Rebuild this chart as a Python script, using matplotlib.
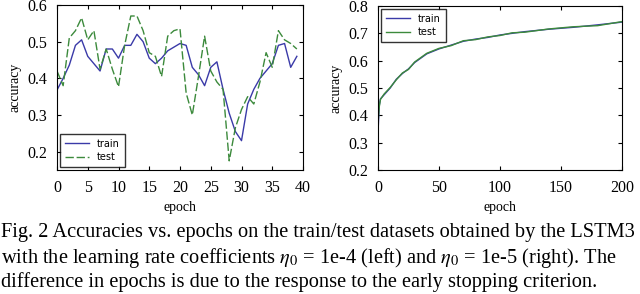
import matplotlib.pyplot as plt
import numpy as np

# left panel: eta0 = 1e-4, 40 epochs
epochs_l = np.arange(40)
train_l = [0.368, 0.40, 0.436, 0.49, 0.505, 0.46, 0.44, 0.42, 0.48, 0.48,
           0.455, 0.49, 0.49, 0.52, 0.50, 0.455, 0.44, 0.455, 0.475, 0.485,
           0.495, 0.49, 0.43, 0.41, 0.38, 0.43, 0.445, 0.37, 0.305, 0.255,
           0.23, 0.33, 0.37, 0.40, 0.42, 0.44, 0.49, 0.495, 0.43, 0.46]
test_l = [0.42, 0.38, 0.51, 0.53, 0.565, 0.505, 0.53, 0.425, 0.48, 0.425,
          0.377, 0.49, 0.57, 0.57, 0.53, 0.47, 0.46, 0.405, 0.515, 0.53,
          0.535, 0.36, 0.30, 0.405, 0.515, 0.42, 0.39, 0.37, 0.175, 0.265,
          0.315, 0.35, 0.33, 0.39, 0.47, 0.43, 0.53, 0.505, 0.495, 0.48]

# right panel: eta0 = 1e-5, 200 epochs (sampled)
epochs_r = [0, 1, 2, 5, 10, 15, 20, 25, 30, 40, 50, 60, 70, 80, 90, 100,
            110, 120, 140, 160, 180, 200]
train_r = [0.336, 0.435, 0.46, 0.475, 0.50, 0.532, 0.553, 0.57, 0.593,
           0.625, 0.643, 0.657, 0.671, 0.679, 0.685, 0.694, 0.700, 0.706,
           0.715, 0.722, 0.731, 0.741]
test_r = [0.37, 0.43, 0.458, 0.478, 0.502, 0.530, 0.555, 0.568, 0.595,
          0.627, 0.645, 0.655, 0.673, 0.677, 0.687, 0.692, 0.702, 0.704,
          0.716, 0.724, 0.728, 0.743]

blue = '#3a3aa8'
green = '#3c8a3c'
serif = 'Liberation Serif'

fig = plt.figure(figsize=(6.4, 2.94), dpi=100)
ax1 = fig.add_axes([57/640, 1 - 170/294, 246/640, 165/294])
ax2 = fig.add_axes([378/640, 1 - 170/294, 244/640, 164/294])

ax1.plot(epochs_l, train_l, color=blue, lw=1.0, label='train')
ax1.plot(epochs_l, test_l, color=green, lw=1.0, ls=(0, (6, 2)), label='test')
ax1.set_xlim(0, 40)
ax1.set_ylim(0.15, 0.6)
ax1.set_xticks(range(0, 41, 5))
ax1.set_yticks([0.2, 0.3, 0.4, 0.5, 0.6])

ax2.plot(epochs_r, train_r, color=blue, lw=1.0, label='train')
ax2.plot(epochs_r, test_r, color=green, lw=1.0, label='test')
ax2.set_xlim(0, 200)
ax2.set_ylim(0.2, 0.8)
ax2.set_xticks([0, 50, 100, 150, 200])
ax2.set_yticks([0.2, 0.3, 0.4, 0.5, 0.6, 0.7, 0.8])

for ax in (ax1, ax2):
    ax.tick_params(direction='in', top=True, right=True, length=3,
                   labelsize=11.5, pad=7)
    for lab in ax.get_xticklabels() + ax.get_yticklabels():
        lab.set_fontfamily(serif)
    ax.set_xlabel('epoch', fontsize=10, family=serif, labelpad=4)
    ax.set_ylabel('accuracy', fontsize=10, family=serif, labelpad=4)
    for s in ax.spines.values():
        s.set_linewidth(0.8)

ax1.legend(loc='lower left', fontsize=7, frameon=True, fancybox=False,
           edgecolor='black', handlelength=2.5, borderpad=0.5,
           labelspacing=0.35, borderaxespad=0.3)
ax2.legend(loc='upper left', fontsize=7, frameon=True, fancybox=False,
           edgecolor='black', handlelength=2.5, borderpad=0.5,
           labelspacing=0.35, borderaxespad=0.3)

caption = ["Fig. 2 Accuracies vs. epochs on the train/test datasets obtained by the LSTM3",
           r"with the learning rate coefficients $\eta_0$ = 1e-4 (left) and $\eta_0$ = 1e-5 (right). The",
           "difference in epochs is due to the response to the early stopping criterion."]
for i, line in enumerate(caption):
    fig.text(0.002, 1 - (233 + 24.5*i)/294, line, fontsize=14.7, family=serif,
             va='center', ha='left', math_fontfamily='stix')

fig.savefig('out.png', dpi=100)
